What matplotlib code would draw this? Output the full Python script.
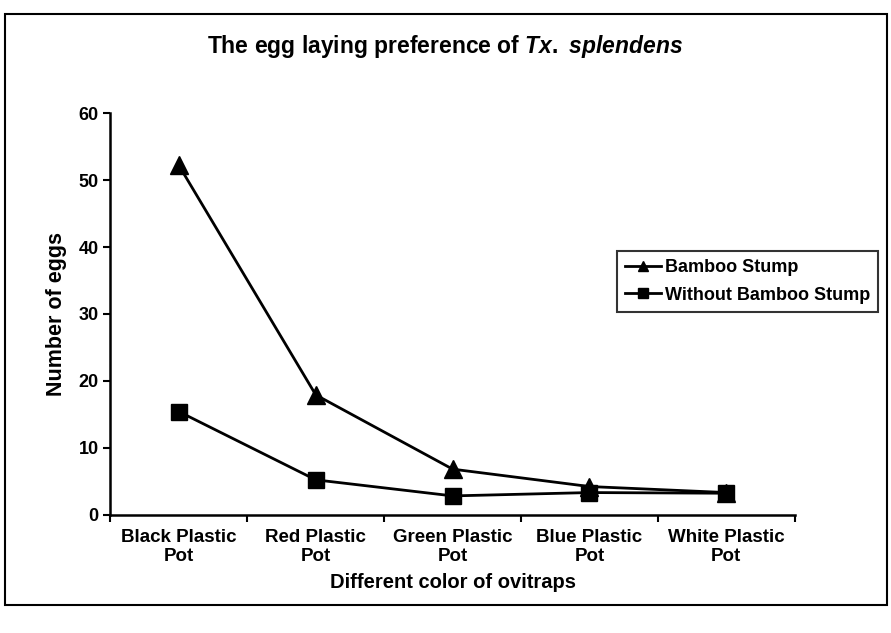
import matplotlib.pyplot as plt
import numpy as np
from matplotlib.patches import Rectangle

plt.rcParams['font.family'] = ['Liberation Sans', 'DejaVu Sans']
plt.rcParams['mathtext.fontset'] = 'custom'
plt.rcParams['mathtext.it'] = 'Liberation Sans:italic:bold'
plt.rcParams['mathtext.rm'] = 'Liberation Sans:bold'

#### DATA ####
categories = ['Black Plastic\nPot', 'Red Plastic\nPot', 'Green Plastic\nPot',
              'Blue Plastic\nPot', 'White Plastic\nPot']
bamboo = [52.2, 17.9, 6.8, 4.2, 3.3]
without_bamboo = [15.4, 5.2, 2.8, 3.3, 3.2]
yticks = [0, 10, 20, 30, 40, 50, 60]

#### PLOT ####
fig = plt.figure(figsize=(8.91, 6.33), dpi=100)
ax = fig.add_axes([0.124, 0.187, 0.768, 0.634])

x = np.arange(len(categories))
ax.plot(x, bamboo, c='k', lw=2, marker='^', ms=13, label='Bamboo Stump')
ax.plot(x, without_bamboo, c='k', lw=2, marker='s', ms=11, label='Without Bamboo Stump')

ax.set_xlim(-0.5, len(categories) - 0.5)
ax.set_ylim(0, 60)
ax.set_yticks(yticks)
ax.set_yticklabels([str(v) for v in yticks], fontsize=13, fontweight='bold')

# category labels between boundary ticks (excel style)
ax.set_xticks(np.arange(len(categories) + 1) - 0.5)
ax.set_xticklabels([])
ax.set_xticks(x, minor=True)
ax.set_xticklabels(categories, minor=True, fontsize=13.5, fontweight='bold')
ax.tick_params(axis='x', which='minor', length=0, pad=10)
ax.tick_params(axis='both', which='major', direction='out', length=5, width=1.5)

for side in ['top', 'right']:
    ax.spines[side].set_visible(False)
for side in ['left', 'bottom']:
    ax.spines[side].set_linewidth(1.8)

ax.set_xlabel('Different color of ovitraps', fontsize=14.5, fontweight='bold', labelpad=6)
ax.set_ylabel('Number of eggs', fontsize=15.5, fontweight='bold', labelpad=8)

fig.text(0.5, 0.927, r'The egg laying preference of $\it{Tx.\ splendens}$',
         ha='center', va='center', fontsize=16.5, fontweight='bold')

leg = fig.legend(loc='upper left', bbox_to_anchor=(0.682, 0.618), fontsize=13,
                 frameon=True, fancybox=False, edgecolor='k', handlelength=2.0,
                 borderpad=0.45, labelspacing=0.6, handletextpad=0.2, markerscale=0.6)
leg.get_frame().set_linewidth(1.5)
for t in leg.get_texts():
    t.set_fontweight('bold')

# outer chart border
fig.patches.append(Rectangle((0.006, 0.045), 0.99, 0.933, transform=fig.transFigure,
                             fill=False, ec='k', lw=1.5))

plt.savefig('out.png', dpi=100)
